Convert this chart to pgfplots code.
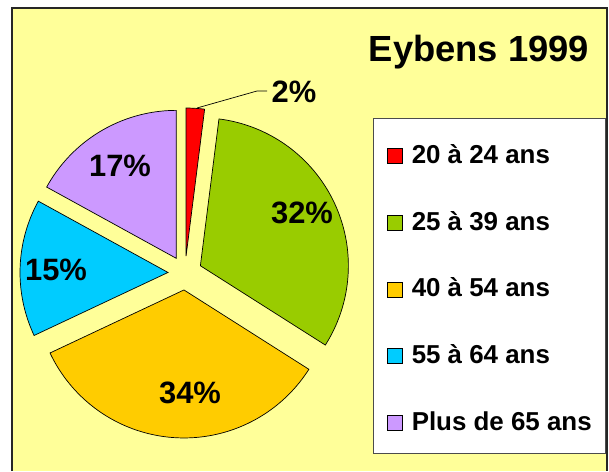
\documentclass[border=0pt]{standalone}
\usepackage{pgfplots}
\pgfplotsset{compat=1.18}
\usepackage{fontspec}
\setmainfont{Liberation Sans}
\definecolor{bgyellow}{HTML}{FFFF99}
\definecolor{sred}{HTML}{FF0000}
\definecolor{sgreen}{HTML}{99CC00}
\definecolor{sorange}{HTML}{FFCC00}
\definecolor{scyan}{HTML}{00CCFF}
\definecolor{spurple}{HTML}{CC99FF}
% data (percent)
\def\vA{2}\def\vB{32}\def\vC{34}\def\vD{15}\def\vE{17}
\def\cx{185}\def\cy{198}\def\R{148}\def\ex{17}
% angles
\pgfmathsetmacro\aA{90}
\pgfmathsetmacro\aB{90-3.6*\vA}
\pgfmathsetmacro\aC{90-3.6*(\vA+\vB)}
\pgfmathsetmacro\aD{90-3.6*(\vA+\vB+\vC)}
\pgfmathsetmacro\aE{90-3.6*(\vA+\vB+\vC+\vD)}
\pgfmathsetmacro\aF{90-3.6*(\vA+\vB+\vC+\vD+\vE)}
\newcommand\vtx[3]{% name, start, end
  \pgfmathsetmacro\tmpm{(#2+#3)/2}%
  \expandafter\pgfmathsetmacro\csname #1x\endcsname{\cx+\ex*cos(\tmpm)}%
  \expandafter\pgfmathsetmacro\csname #1y\endcsname{\cy+\ex*sin(\tmpm)}%
}
\vtx{PA}{\aA}{\aB}
\vtx{PB}{\aB}{\aC}
\vtx{PC}{\aC}{\aD}
\vtx{PD}{\aD}{\aE}
\vtx{PE}{\aE}{\aF}
\begin{document}
\begin{tikzpicture}
\begin{axis}[
  width=609bp, height=471bp, scale only axis,
  xmin=0, xmax=609, ymin=0, ymax=471,
  hide axis, clip=false,
  legend image code/.code={\draw[#1, line width=0.8bp] (0bp,0bp) rectangle (15bp,15bp);},
  legend style={at={(axis cs:373,353)}, anchor=north west,
    draw=black!70, fill=white, line width=0.9bp,
    inner xsep=14bp, inner ysep=18bp,
    row sep=34.75bp, column sep=8.5bp,
    font=\fontsize{26}{30}\selectfont\bfseries,
    cells={anchor=base west},
    nodes={inner sep=0pt, text height=27bp, text depth=5bp}},
]
\fill[white] (axis cs:0,0) rectangle (axis cs:609,471);
\fill[bgyellow] (axis cs:12,0) rectangle (axis cs:607,463);
\draw[line width=1.4bp, black!85] (axis cs:12,0) -- (axis cs:12,463) -- (axis cs:607,463) -- (axis cs:607,0);

\addplot[fill=sred, draw=black, line width=0.7bp, domain=\aB:\aA, samples=10, variable=\t]
  ({\PAx+\R*cos(\t)},{\PAy+\R*sin(\t)}) -- (axis cs:\PAx,\PAy) -- cycle;
\addlegendentry{20 à 24 ans}
\addplot[fill=sgreen, draw=black, line width=0.7bp, domain=\aC:\aB, samples=80, variable=\t]
  ({\PBx+\R*cos(\t)},{\PBy+\R*sin(\t)}) -- (axis cs:\PBx,\PBy) -- cycle;
\addlegendentry{25 à 39 ans}
\addplot[fill=sorange, draw=black, line width=0.7bp, domain=\aD:\aC, samples=80, variable=\t]
  ({\PCx+\R*cos(\t)},{\PCy+\R*sin(\t)}) -- (axis cs:\PCx,\PCy) -- cycle;
\addlegendentry{40 à 54 ans}
\addplot[fill=scyan, draw=black, line width=0.7bp, domain=\aE:\aD, samples=40, variable=\t]
  ({\PDx+\R*cos(\t)},{\PDy+\R*sin(\t)}) -- (axis cs:\PDx,\PDy) -- cycle;
\addlegendentry{55 à 64 ans}
\addplot[fill=spurple, draw=black, line width=0.7bp, domain=\aF:\aE, samples=40, variable=\t]
  ({\PEx+\R*cos(\t)},{\PEy+\R*sin(\t)}) -- (axis cs:\PEx,\PEy) -- cycle;
\addlegendentry{Plus de 65 ans}

\draw[line width=0.7bp] (axis cs:197,363) -- (axis cs:257,380) -- (axis cs:267,380);
\node[font=\fontsize{31}{34}\selectfont\bfseries, inner sep=0pt] at (axis cs:294,379.5) {2\%};
\node[font=\fontsize{31}{34}\selectfont\bfseries, inner sep=0pt] at (axis cs:302,258) {32\%};
\node[font=\fontsize{31}{34}\selectfont\bfseries, inner sep=0pt] at (axis cs:190,78) {34\%};
\node[font=\fontsize{31}{34}\selectfont\bfseries, inner sep=0pt] at (axis cs:56,201) {15\%};
\node[font=\fontsize{31}{34}\selectfont\bfseries, inner sep=0pt] at (axis cs:120,305) {17\%};
\node[font=\fontsize{36.5}{40}\selectfont\bfseries, inner sep=0pt, anchor=base] at (axis cs:479,409) {Eybens 1999};
\end{axis}
\end{tikzpicture}
\end{document}
